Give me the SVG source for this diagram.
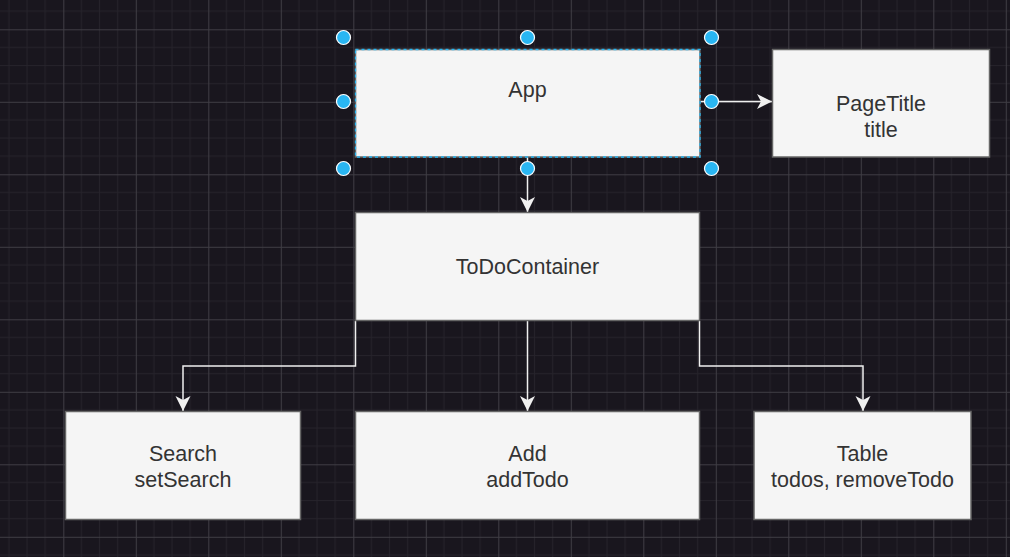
<svg xmlns="http://www.w3.org/2000/svg" width="1010" height="557" viewBox="0 0 1010 557">
  <defs>
    <pattern id="grid" patternUnits="userSpaceOnUse" x="63.3" y="29.3" width="72.5" height="72.5">
      <path d="M18.125 0V72.5M36.25 0V72.5M54.375 0V72.5M0 18.125H72.5M0 36.25H72.5M0 54.375H72.5" stroke="#26232b" stroke-width="1" fill="none"/>
      <path d="M0.5 0V72.5M0 0.5H72.5" stroke="#3f3d44" stroke-width="1" fill="none"/>
    </pattern>
    <marker id="arrow" markerUnits="userSpaceOnUse" viewBox="0 0 16 16" markerWidth="16" markerHeight="16" refX="15" refY="8" orient="auto">
      <path d="M15 8L0 0.5L4 8L0 15.5Z" fill="#f0f0f0"/>
    </marker>
    <style>
      .box { fill: #f5f5f5; stroke: #666666; stroke-width: 1.5; }
      .lbl { font-family: "Liberation Sans", Arial, Helvetica, sans-serif; font-size: 21.5px; fill: #333333; text-anchor: middle; }
      .edge { fill: none; stroke: #f0f0f0; stroke-width: 1.5; marker-end: url(#arrow); }
      .sel { fill: none; stroke: #29b6f2; stroke-width: 1.3; stroke-dasharray: 3 3; }
      .handle { fill: #29b6f2; stroke: #ffffff; stroke-width: 1.2; }
    </style>
  </defs>
  <rect width="1010" height="557" fill="#19161e"/>
  <rect width="1010" height="557" fill="url(#grid)"/>

  <g id="connectors">
    <path class="edge" d="M700 101.5H772"/>
    <path class="edge" d="M527.5 157V212"/>
    <path class="edge" d="M355.5 321V366H183V411"/>
    <path class="edge" d="M527.5 321V411"/>
    <path class="edge" d="M699.5 321V366H863V411"/>
  </g>

  <g id="node-app">
    <rect class="box" x="355.5" y="49.5" width="344.5" height="107.5"/>
    <rect class="sel" x="355.5" y="49.5" width="344.5" height="107.5"/>
    <text class="lbl" x="527.5" y="97">App</text>
  </g>

  <g id="node-pagetitle">
    <rect class="box" x="772.5" y="49.5" width="217" height="107.5"/>
    <text class="lbl" x="881" y="111">PageTitle</text>
    <text class="lbl" x="881" y="137">title</text>
  </g>

  <g id="node-todocontainer">
    <rect class="box" x="355.5" y="212.5" width="344" height="108"/>
    <text class="lbl" x="527.5" y="274">ToDoContainer</text>
  </g>

  <g id="node-search">
    <rect class="box" x="65.5" y="411.5" width="235" height="108"/>
    <text class="lbl" x="183" y="461">Search</text>
    <text class="lbl" x="183" y="487">setSearch</text>
  </g>

  <g id="node-add">
    <rect class="box" x="355.5" y="411.5" width="344" height="108"/>
    <text class="lbl" x="527.5" y="461">Add</text>
    <text class="lbl" x="527.5" y="487">addTodo</text>
  </g>

  <g id="node-table">
    <rect class="box" x="754" y="411.5" width="217" height="108"/>
    <text class="lbl" x="862.5" y="461">Table</text>
    <text class="lbl" x="862.5" y="487">todos, removeTodo</text>
  </g>

  <g id="selection-handles">
    <circle class="handle" cx="343.5" cy="37.5" r="7"/>
    <circle class="handle" cx="527.5" cy="37.5" r="7"/>
    <circle class="handle" cx="711.5" cy="37.5" r="7"/>
    <circle class="handle" cx="343.5" cy="101.5" r="7"/>
    <circle class="handle" cx="711.5" cy="101.5" r="7"/>
    <circle class="handle" cx="343.5" cy="168.5" r="7"/>
    <circle class="handle" cx="527.5" cy="168.5" r="7"/>
    <circle class="handle" cx="711.5" cy="168.5" r="7"/>
  </g>
</svg>
